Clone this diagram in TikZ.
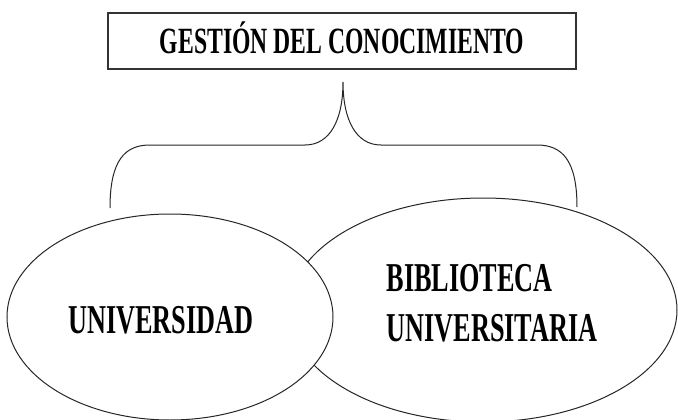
\documentclass[tikz,border=0pt]{standalone}
\usepackage{fontspec}
\setmainfont{Liberation Serif}
\usepackage{graphicx}
\usetikzlibrary{shapes.geometric}
\newcommand{\narrow}[1]{\scalebox{0.64}[1]{#1}}

\begin{document}
\begin{tikzpicture}
                [x=1pt, y=-1pt,
                titlebox/.style={rectangle,draw=black!80,line width=1.6pt,minimum width=468pt,minimum height=56pt,inner sep=0pt,text height=25pt,text depth=0pt,font=\bfseries\fontsize{37}{40}\selectfont},
                circulo/.style={ellipse,draw=black!85,line width=1pt,fill=white,inner sep=0pt},
                rotulo/.style={align=left,inner sep=0pt,font=\bfseries\fontsize{41}{50}\selectfont},
                llave/.style={draw=black!85,line width=1pt}
                ]
            \useasboundingbox (0,0) rectangle (678,420);
            \node[titlebox] (gestion) at (342,41) {\narrow{GESTIÓN DEL CONOCIMIENTO}};
            \node[circulo,minimum width=388pt,minimum height=224pt] (biblio) at (483,310) {};
            \node[circulo,minimum width=326pt,minimum height=206pt] (univ) at (170,317) {};
            \node[rotulo] (univText) at (161,320) {\narrow{UNIVERSIDAD}};
            \node[rotulo] (biblioText) at (492,303) {\narrow{BIBLIOTECA}\\\narrow{UNIVERSITARIA}};
            \coordinate (tip) at (343,82);
            \coordinate (izq) at (110,208);
            \coordinate (der) at (577,207);
            \draw[llave] (izq) .. controls (110,160) and (125,145) .. (150,145) -- (305,145)
                .. controls (330,145) and (343,120) .. (tip)
                .. controls (343,120) and (356,145) .. (381,145) -- (537,145)
                .. controls (562,145) and (577,160) .. (der);
            \end{tikzpicture}
\end{document}
